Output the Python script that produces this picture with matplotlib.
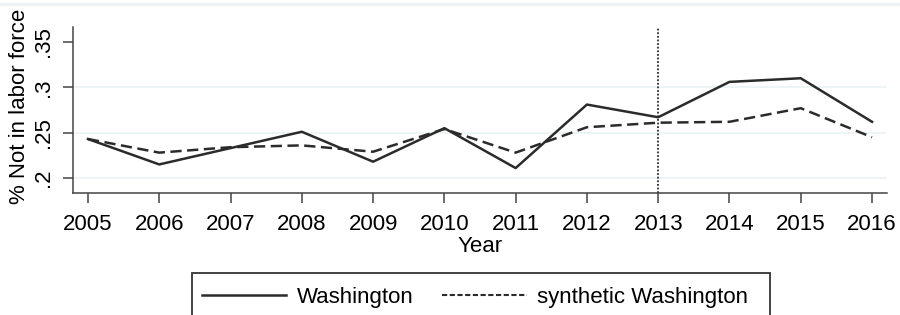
import matplotlib
matplotlib.use("Agg")
import matplotlib.pyplot as plt
from matplotlib.lines import Line2D
from matplotlib.patches import Rectangle

plt.rcParams['font.family'] = ['Liberation Sans', 'DejaVu Sans']

years = [2005, 2006, 2007, 2008, 2009, 2010, 2011, 2012, 2013, 2014, 2015, 2016]
washington = [0.243, 0.215, 0.233, 0.251, 0.218, 0.255, 0.211, 0.281, 0.267, 0.306, 0.310, 0.262]
synthetic = [0.243, 0.228, 0.234, 0.236, 0.229, 0.254, 0.228, 0.256, 0.261, 0.262, 0.277, 0.245]
yticks = [0.2, 0.25, 0.3, 0.35]
ylabels = ['.2', '.25', '.3', '.35']
treat_year = 2013

fs = 16
fig = plt.figure(figsize=(9, 3.15), dpi=100)
ax = fig.add_axes([73/900, 1-193/315, (887-73)/900, (193-27)/315])

dark = '#2b2b2b'
ax.plot(years, washington, color=dark, lw=1.8)
ax.plot(years, synthetic, color=dark, lw=1.8, dashes=(4.5, 2.2))
ax.axvline(treat_year, color=dark, lw=1.3, ls=(0, (1, 1)))

for t in yticks[:3]:
    ax.axhline(t, color='#eaf2f3', lw=1.2, zorder=0)

ax.set_xlim(2004.79, 2016.21)
ax.set_ylim(0.1835, 0.3665)
ax.set_xticks(years)
ax.set_xticklabels([str(y) for y in years], fontsize=fs)
ax.set_yticks(yticks)
ax.set_yticklabels(ylabels, fontsize=fs, rotation=90, va='center')
ax.tick_params(axis='both', direction='out', length=7, width=1.1, color='#444444')
ax.tick_params(axis='x', pad=8)
ax.tick_params(axis='y', pad=7)
for s in ['top', 'right']:
    ax.spines[s].set_visible(False)
for s in ['left', 'bottom']:
    ax.spines[s].set_color('#444444')
    ax.spines[s].set_linewidth(1.1)

ax.set_xlabel('Year', fontsize=fs, labelpad=1)
ax.set_ylabel('% Not in labor force', fontsize=fs)
ax.yaxis.set_label_coords(-43/814, 0.52)

# faint top border line
fig.add_artist(Line2D([0, 1], [1-4/315, 1-4/315], color='#eef3f5', lw=2.5))

# legend box (cut off at the bottom, as in the source)
fig.add_artist(Rectangle((192/900, 1-335/315), (770-192)/900, 62/315,
                         transform=fig.transFigure, fill=False,
                         edgecolor='#333333', lw=1.3))
handles = [Line2D([], [], color=dark, lw=1.8),
           Line2D([], [], color=dark, lw=1.5, dashes=(2.5, 1.2))]
leg = fig.legend(handles, ['Washington', 'synthetic Washington'],
                 loc='center left', bbox_to_anchor=(192/900, 1-297/315),
                 ncol=2, fontsize=fs, frameon=False,
                 handlelength=3.8, handletextpad=0.45, columnspacing=1.3,
                 borderpad=0.45, borderaxespad=0)

fig.savefig('out.png', dpi=100)
